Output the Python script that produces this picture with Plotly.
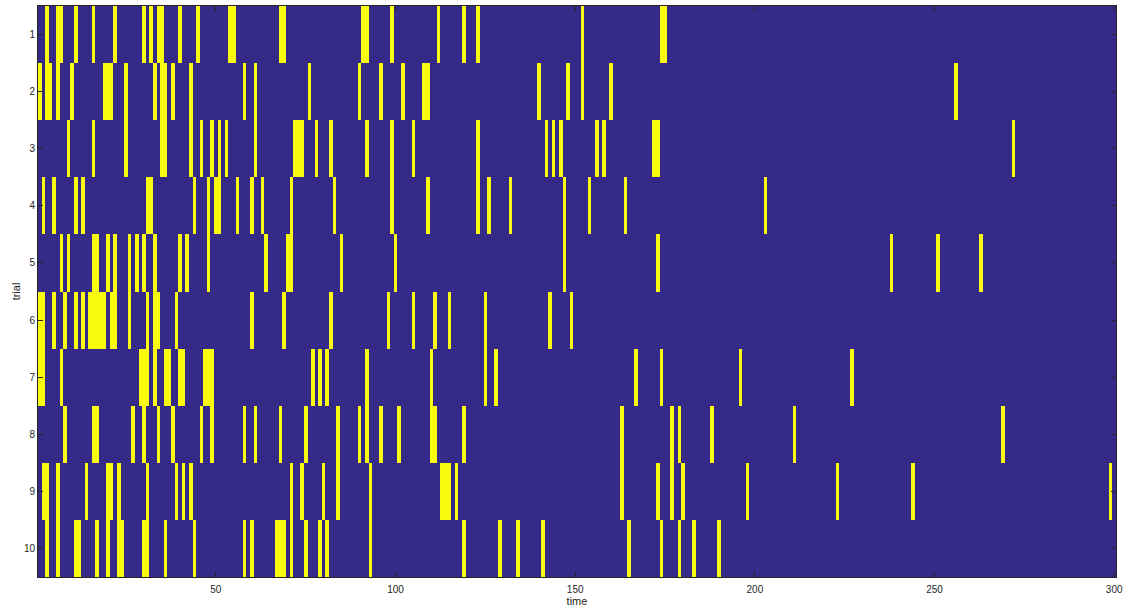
import plotly.graph_objects as go

n_time = 300
trials = list(range(1, 11))
x_ticks = [50, 100, 150, 200, 250, 300]

trial_1 = [3, 6, 7, 11, 16, 22, 30, 32, 34, 35, 40, 45, 54, 55, 68, 69, 91, 92, 99, 112, 119, 123, 152, 174, 175]
trial_2 = [1, 3, 4, 6, 10, 19, 20, 21, 25, 33, 35, 36, 38, 43, 58, 61, 76, 90, 96, 102, 108, 109, 140, 148, 152, 160, 256]
trial_3 = [9, 16, 25, 35, 36, 43, 46, 49, 51, 53, 61, 72, 73, 74, 78, 82, 92, 99, 105, 123, 142, 144, 146, 156, 158, 172, 173, 272]
trial_4 = [2, 5, 11, 13, 31, 32, 44, 48, 50, 51, 56, 60, 63, 71, 83, 99, 109, 123, 126, 132, 147, 154, 164, 203]
trial_5 = [7, 9, 16, 17, 20, 22, 26, 28, 30, 33, 40, 42, 48, 64, 70, 71, 85, 100, 147, 173, 238, 251, 263]
trial_6 = [1, 2, 5, 8, 11, 13, 15, 16, 17, 18, 19, 21, 22, 26, 31, 33, 34, 39, 60, 69, 82, 98, 105, 111, 115, 125, 143, 149]
trial_7 = [1, 2, 7, 29, 30, 31, 33, 36, 37, 40, 41, 47, 48, 49, 77, 79, 81, 92, 110, 125, 128, 167, 174, 196, 227]
trial_8 = [8, 16, 17, 27, 30, 34, 38, 46, 49, 58, 61, 68, 75, 84, 90, 92, 96, 101, 110, 111, 119, 163, 177, 179, 188, 211, 269]
trial_9 = [2, 3, 6, 14, 20, 21, 23, 31, 39, 41, 43, 71, 74, 80, 84, 93, 113, 114, 115, 117, 163, 173, 177, 180, 198, 223, 244, 299]
trial_10 = [3, 6, 11, 12, 17, 20, 23, 24, 30, 31, 36, 44, 58, 60, 67, 68, 69, 71, 75, 79, 81, 93, 119, 129, 134, 141, 165, 174, 179, 183, 190]

spikes = [trial_1, trial_2, trial_3, trial_4, trial_5, trial_6, trial_7, trial_8, trial_9, trial_10]
times = list(range(1, n_time + 1))
z = [[1 if t in s else 0 for t in times] for s in spikes]

fig = go.Figure(go.Heatmap(
    z=z, x=times, y=trials,
    colorscale=[[0, "#352a87"], [1, "#f9fb0e"]],
    zmin=0, zmax=1, showscale=False, hoverongaps=False,
))

axis_font = dict(family="Liberation Sans, Arial, sans-serif", size=10, color="#262626")
fig.update_layout(
    width=1123, height=608,
    margin=dict(l=38, r=0, t=6, b=31),
    paper_bgcolor="white", plot_bgcolor="white",
    font=axis_font,
)
fig.update_xaxes(
    range=[0.5, 300.5], tickvals=x_ticks, ticks="inside", ticklen=5,
    tickcolor="#262626", mirror="ticks", showline=True, linecolor="#262626", linewidth=1,
    showgrid=False, zeroline=False, ticklabeloverflow="allow", ticklabelstandoff=3,
    title=dict(text="time", standoff=1, font=dict(size=11)),
)
fig.update_yaxes(
    range=[10.5, 0.5], tickvals=trials, ticks="inside", ticklen=5,
    tickcolor="#262626", mirror="ticks", showline=True, linecolor="#262626", linewidth=1,
    showgrid=False, zeroline=False,
    title=dict(text="trial", standoff=1, font=dict(size=11)),
)

fig.write_html(
    "out.html",
    config={"displayModeBar": False, "responsive": False},
    post_script="document.body.style.margin='0';document.body.style.overflow='hidden';",
)
